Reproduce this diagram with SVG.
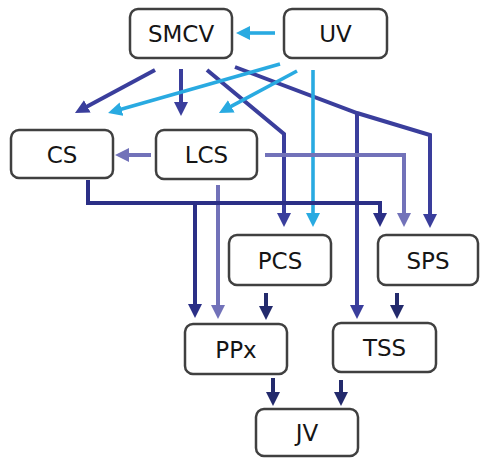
<svg xmlns="http://www.w3.org/2000/svg" width="480" height="458" viewBox="0 0 480 458">
  <style>
    .box { fill: #ffffff; stroke: #404040; stroke-width: 2.5; }
    .lbl { font-family: "DejaVu Sans", Verdana, sans-serif; font-size: 23px; fill: #151515; text-anchor: middle; }
    .c { fill: none; stroke-width: 4; stroke-linejoin: miter; }
    .navy { stroke: #3a3e9c; }
    .sky { stroke: #29aae1; stroke-width: 3.6; }
    .lav { stroke: #7272b9; }
    .deep { stroke: #2b2f86; }
    .ink { stroke: #232a6c; }
  </style>
  <defs>
    <marker id="hNavy" markerUnits="userSpaceOnUse" markerWidth="14" markerHeight="14" viewBox="0 0 14 14" refX="5" refY="7" orient="auto">
      <path d="M0,0 L14,7 L0,14 z" fill="#3a3e9c"/>
    </marker>
    <marker id="hSky" markerUnits="userSpaceOnUse" markerWidth="14" markerHeight="14" viewBox="0 0 14 14" refX="5" refY="7" orient="auto">
      <path d="M0,0 L14,7 L0,14 z" fill="#29aae1"/>
    </marker>
    <marker id="hLav" markerUnits="userSpaceOnUse" markerWidth="14" markerHeight="14" viewBox="0 0 14 14" refX="5" refY="7" orient="auto">
      <path d="M0,0 L14,7 L0,14 z" fill="#7272b9"/>
    </marker>
    <marker id="hDeep" markerUnits="userSpaceOnUse" markerWidth="14" markerHeight="14" viewBox="0 0 14 14" refX="5" refY="7" orient="auto">
      <path d="M0,0 L14,7 L0,14 z" fill="#2b2f86"/>
    </marker>
    <marker id="hInk" markerUnits="userSpaceOnUse" markerWidth="14" markerHeight="14" viewBox="0 0 14 14" refX="5" refY="7" orient="auto">
      <path d="M0,0 L14,7 L0,14 z" fill="#232a6c"/>
    </marker>
  </defs>

  <g id="connectors">
    <!-- from SMCV -->
    <path class="c navy" d="M155,70 L82.9,108.7" marker-end="url(#hNavy)"/>
    <path class="c navy" d="M181,69 L181,107" marker-end="url(#hNavy)"/>
    <path class="c navy" d="M207,70 L284,134 L284,218" marker-end="url(#hNavy)"/>
    <path class="c navy" d="M235,67 L357,113 L430,135 L430,219" marker-end="url(#hNavy)"/>
    <path class="c navy" d="M357,113 L357,310" marker-end="url(#hNavy)"/>
    <!-- from UV -->
    <path class="c sky" d="M275,33 L245,33" marker-end="url(#hSky)"/>
    <path class="c sky" d="M280,64 L116.7,110.5" marker-end="url(#hSky)"/>
    <path class="c sky" d="M297,71 L226.9,108.7" marker-end="url(#hSky)"/>
    <path class="c sky" d="M313,70 L313,218" marker-end="url(#hSky)"/>
    <!-- from LCS -->
    <path class="c lav" d="M151,155 L124,155" marker-end="url(#hLav)"/>
    <path class="c lav" d="M265,155 L404,155 L404,218" marker-end="url(#hLav)"/>
    <path class="c lav" d="M218,185 L218,310" marker-end="url(#hLav)"/>
    <!-- from CS -->
    <path class="c deep" d="M88,180 L88,203 L195,203 L195,309" marker-end="url(#hDeep)"/>
    <path class="c deep" d="M195,203 L380,203 L380,218" marker-end="url(#hDeep)"/>
    <!-- lower tiers -->
    <path class="c ink" d="M266,293 L266,311" marker-end="url(#hInk)"/>
    <path class="c ink" d="M397,293 L397,310" marker-end="url(#hInk)"/>
    <path class="c ink" d="M273,378 L273,397" marker-end="url(#hInk)"/>
    <path class="c ink" d="M341,380 L341,397" marker-end="url(#hInk)"/>
  </g>

  <g id="SMCV"><rect class="box" x="130" y="9" width="102" height="49" rx="8"/><text class="lbl" x="181" y="42">SMCV</text></g>
  <g id="UV"><rect class="box" x="284" y="9" width="103" height="49" rx="8"/><text class="lbl" x="335.5" y="42">UV</text></g>
  <g id="CS"><rect class="box" x="11" y="130" width="102" height="48" rx="8"/><text class="lbl" x="62" y="162.5">CS</text></g>
  <g id="LCS"><rect class="box" x="156" y="130" width="101" height="49" rx="8"/><text class="lbl" x="206.5" y="163">LCS</text></g>
  <g id="PCS"><rect class="box" x="229" y="235" width="102" height="50" rx="8"/><text class="lbl" x="280" y="268.5">PCS</text></g>
  <g id="SPS"><rect class="box" x="378" y="235" width="100" height="50" rx="8"/><text class="lbl" x="428" y="268.5">SPS</text></g>
  <g id="PPx"><rect class="box" x="185" y="324" width="102" height="50" rx="8"/><text class="lbl" x="236" y="357.5">PPx</text></g>
  <g id="TSS"><rect class="box" x="333" y="323" width="103" height="49" rx="8"/><text class="lbl" x="384.5" y="356">TSS</text></g>
  <g id="JV"><rect class="box" x="256" y="409" width="102" height="47" rx="8"/><text class="lbl" x="307" y="441">JV</text></g>
</svg>
